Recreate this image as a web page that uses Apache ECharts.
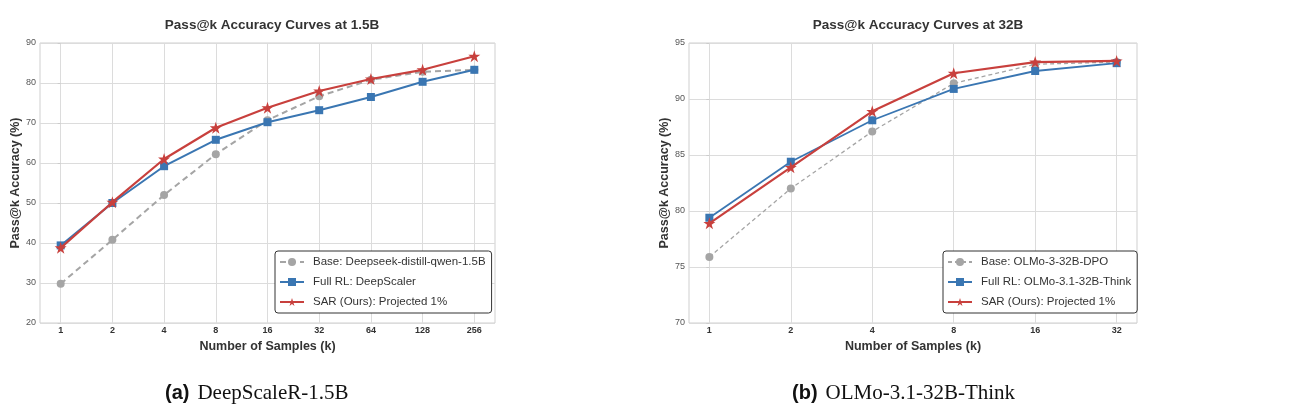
<!DOCTYPE html>
<html>
<head>
<meta charset="utf-8">
<script src="https://cdn.jsdelivr.net/npm/echarts@6/dist/echarts.min.js"></script>
<style>
  html, body { margin: 0; padding: 0; background: #fff; }
  #chart { width: 1290px; height: 420px; }
</style>
</head>
<body>
<div id="chart"></div>
<script>
// ---- data ----
const kLeft = ['1', '2', '4', '8', '16', '32', '64', '128', '256'];
const baseLeft = [29.8, 40.8, 52.0, 62.2, 70.7, 76.7, 80.8, 82.8, 83.3];
const fullLeft = [39.4, 50.0, 59.2, 65.8, 70.2, 73.2, 76.5, 80.3, 83.3];
const sarLeft  = [38.8, 50.2, 61.0, 68.8, 73.8, 78.0, 81.0, 83.3, 86.7];

const kRight = ['1', '2', '4', '8', '16', '32'];
const baseRight = [75.9, 82.0, 87.1, 91.4, 93.1, 93.3];
const fullRight = [79.4, 84.4, 88.1, 90.9, 92.5, 93.2];
const sarRight  = [78.9, 83.9, 88.9, 92.3, 93.3, 93.4];

const namesLeft = ['Base: Deepseek-distill-qwen-1.5B', 'Full RL: DeepScaler', 'SAR (Ours): Projected 1%'];
const namesRight = ['Base: OLMo-3-32B-DPO', 'Full RL: OLMo-3.1-32B-Think', 'SAR (Ours): Projected 1%'];

const GRAY = '#a5a5a5', BLUE = '#3a76b2', RED = '#c8403d';
const FONT = 'Liberation Sans';
const STAR = 'path://M50,0 L61.2,34.5 L97.6,34.5 L68.2,55.9 L79.4,90.5 L50,69.1 L20.6,90.5 L31.8,55.9 L2.4,34.5 L38.8,34.5 Z';

const chart = echarts.init(document.getElementById('chart'));

const pts = (vals) => vals.map((v, i) => [i, v]);

function xAxisFor(idx, labels, pad) {
  const ticks = labels.map((_, i) => i);
  return {
    type: 'value', gridIndex: idx,
    min: -pad, max: labels.length - 1 + pad,
    axisLine: { show: false },
    axisTick: { show: false, customValues: ticks },
    axisLabel: {
      customValues: ticks,
      formatter: v => labels[Math.round(v)],
      fontFamily: FONT, fontSize: 9, fontWeight: 'bold', color: '#333', margin: 3
    },
    splitLine: { show: true, lineStyle: { color: '#dcdcdc', width: 1 } },
    name: 'Number of Samples (k)', nameLocation: 'middle', nameGap: 17,
    nameTextStyle: { fontFamily: FONT, fontSize: 12.5, fontWeight: 'bold', color: '#333' }
  };
}

function yAxisFor(idx, min, max, step) {
  return {
    type: 'value', gridIndex: idx, min: min, max: max, interval: step,
    axisLine: { show: false },
    axisTick: { show: true, length: 3, lineStyle: { color: '#ccc' } },
    axisLabel: { fontFamily: FONT, fontSize: 9, color: '#555', margin: 4 },
    splitLine: { show: true, lineStyle: { color: '#dcdcdc', width: 1 } },
    name: 'Pass@k Accuracy (%)', nameLocation: 'middle', nameGap: 15,
    nameTextStyle: { fontFamily: FONT, fontSize: 12.5, fontWeight: 'bold', color: '#333' }
  };
}

function seriesFor(idx, names, base, full, sar, thin) {
  return [
    {
      name: names[0], type: 'line', xAxisIndex: idx, yAxisIndex: idx, data: pts(base),
      symbol: 'circle', symbolSize: 8, itemStyle: { color: GRAY },
      lineStyle: { color: GRAY, width: thin ? 1.3 : 2, type: thin ? [4, 3] : [6, 4] }, z: 2
    },
    {
      name: names[1], type: 'line', xAxisIndex: idx, yAxisIndex: idx, data: pts(full),
      symbol: 'rect', symbolSize: 8, itemStyle: { color: BLUE },
      lineStyle: { color: BLUE, width: thin ? 1.8 : 2 }, z: 3
    },
    {
      name: names[2], type: 'line', xAxisIndex: idx, yAxisIndex: idx, data: pts(sar),
      symbol: STAR, symbolSize: 12, itemStyle: { color: RED },
      lineStyle: { color: RED, width: 2.2 }, z: 4
    }
  ];
}

function legendFor(names, left) {
  return {
    data: names, orient: 'vertical', left: left, top: 251,
    itemWidth: 24, itemHeight: 10, itemGap: 8,
    padding: [5, 6, 5, 4],
    backgroundColor: '#fff', borderColor: '#333', borderWidth: 1, borderRadius: 3,
    textStyle: { fontFamily: FONT, fontSize: 11.5, color: '#333', padding: [0, 0, 0, 4] }
  };
}

const titleStyle = { fontFamily: FONT, fontSize: 13.5, fontWeight: 'bold', color: '#333' };
const capRich = {
  a: { fontFamily: FONT, fontSize: 20, fontWeight: 'bold', color: '#111' },
  b: { fontFamily: 'Liberation Serif', fontSize: 21, fontWeight: 'normal', color: '#111', padding: [0, 0, 0, 8] }
};

chart.setOption({
  animation: false,
  title: [
    { text: 'Pass@k Accuracy Curves at 1.5B', left: 267, top: 13, textAlign: 'center', textStyle: titleStyle },
    { text: 'Pass@k Accuracy Curves at 32B', left: 913, top: 13, textAlign: 'center', textStyle: titleStyle },
    { text: '{a|(a)}{b|DeepScaleR-1.5B}', left: 160, top: 378, textStyle: { rich: capRich } },
    { text: '{a|(b)}{b|OLMo-3.1-32B-Think}', left: 787, top: 378, textStyle: { rich: capRich } }
  ],
  grid: [
    { left: 40, top: 43, width: 455, height: 280, show: true, borderColor: '#cfcfcf', borderWidth: 1, backgroundColor: '#fff' },
    { left: 689, top: 43, width: 448, height: 280, show: true, borderColor: '#cfcfcf', borderWidth: 1, backgroundColor: '#fff' }
  ],
  xAxis: [xAxisFor(0, kLeft, 0.4), xAxisFor(1, kRight, 0.25)],
  yAxis: [yAxisFor(0, 20, 90, 10), yAxisFor(1, 70, 95, 5)],
  legend: [legendFor(namesLeft, 275), legendFor(namesRight, 943)],
  series: [
    ...seriesFor(0, namesLeft, baseLeft, fullLeft, sarLeft, false),
    ...seriesFor(1, namesRight, baseRight, fullRight, sarRight, true)
  ]
});
</script>
</body>
</html>
